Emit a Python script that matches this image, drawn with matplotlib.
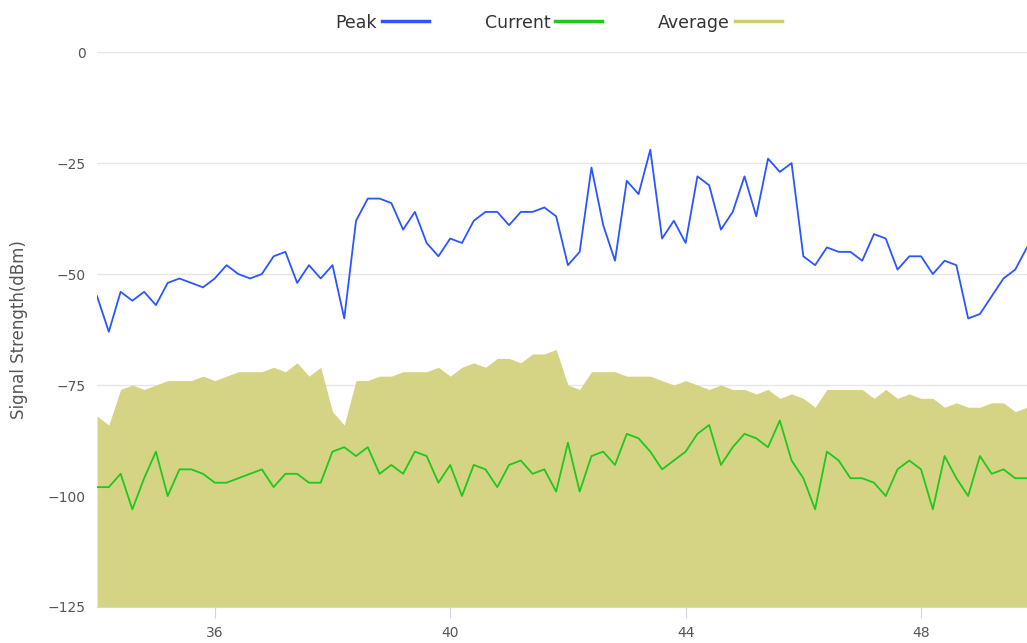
import numpy as np
import matplotlib.pyplot as plt
from matplotlib.lines import Line2D

# frequency axis: one sample every 0.2 units
start, step = 34.0, 0.2

peak = [-55, -63, -54, -56, -54, -57, -52, -51, -52, -53,
        -51, -48, -50, -51, -50, -46, -45, -52, -48, -51,
        -48, -60, -38, -33, -33, -34, -40, -36, -43, -46,
        -42, -43, -38, -36, -36, -39, -36, -36, -35, -37,
        -48, -45, -26, -39, -47, -29, -32, -22, -42, -38,
        -43, -28, -30, -40, -36, -28, -37, -24, -27, -25,
        -46, -48, -44, -45, -45, -47, -41, -42, -49, -46,
        -46, -50, -47, -48, -60, -59, -55, -51, -49, -44]

current = [-98, -98, -95, -103, -96, -90, -100, -94, -94, -95,
           -97, -97, -96, -95, -94, -98, -95, -95, -97, -97,
           -90, -89, -91, -89, -95, -93, -95, -90, -91, -97,
           -93, -100, -93, -94, -98, -93, -92, -95, -94, -99,
           -88, -99, -91, -90, -93, -86, -87, -90, -94, -92,
           -90, -86, -84, -93, -89, -86, -87, -89, -83, -92,
           -96, -103, -90, -92, -96, -96, -97, -100, -94, -92,
           -94, -103, -91, -96, -100, -91, -95, -94, -96, -96]

average = [-82, -84, -76, -75, -76, -75, -74, -74, -74, -73,
           -74, -73, -72, -72, -72, -71, -72, -70, -73, -71,
           -81, -84, -74, -74, -73, -73, -72, -72, -72, -71,
           -73, -71, -70, -71, -69, -69, -70, -68, -68, -67,
           -75, -76, -72, -72, -72, -73, -73, -73, -74, -75,
           -74, -75, -76, -75, -76, -76, -77, -76, -78, -77,
           -78, -80, -76, -76, -76, -76, -78, -76, -78, -77,
           -78, -78, -80, -79, -80, -80, -79, -79, -81, -80]

x = start + step * np.arange(len(peak))

c_peak = '#2b55ff'
c_cur = '#1ec81e'
c_avg = '#d5d485'
c_avg_leg = '#cccc77'
txt = '#555555'

fig = plt.figure(figsize=(10.27, 6.43), dpi=100)
ax = fig.add_axes([0.0945, 0.056, 0.9055, 0.863])

ax.fill_between(x, average, -125, color=c_avg, linewidth=0, zorder=1)
ax.plot(x, current, color=c_cur, linewidth=1.3, zorder=3)
ax.plot(x, peak, color=c_peak, linewidth=1.3, zorder=3)

ax.set_xlim(x[0], x[-1])
ax.set_ylim(-125, 0)
ax.set_yticks([0, -25, -50, -75, -100, -125])
ax.set_xticks([36, 40, 44, 48])
ax.grid(axis='y', color='#e6e6e6', linewidth=1, zorder=0)
ax.set_axisbelow(True)

for side in ['top', 'right', 'left']:
    ax.spines[side].set_visible(False)
ax.spines['bottom'].set_color('#ccd6eb')

ax.tick_params(axis='y', length=0, pad=8, labelsize=10, labelcolor=txt)
ax.tick_params(axis='x', length=8, color='#ccd6eb', pad=6, labelsize=10, labelcolor=txt)
ax.set_ylabel('Signal Strength(dBm)', fontsize=12, color=txt, labelpad=14)

handles = [Line2D([], [], color=c_peak, linewidth=2.5),
           Line2D([], [], color=c_cur, linewidth=2.5),
           Line2D([], [], color=c_avg_leg, linewidth=2.5)]
fig.legend(handles, ['Peak', 'Current', 'Average'], loc='center', bbox_to_anchor=(0.544, 0.965),
           ncol=3, frameon=False, markerfirst=False, fontsize=12.5, handlelength=2.7,
           handletextpad=0.3, columnspacing=3.2, labelcolor='#333333')

fig.savefig('out.png', dpi=100)
